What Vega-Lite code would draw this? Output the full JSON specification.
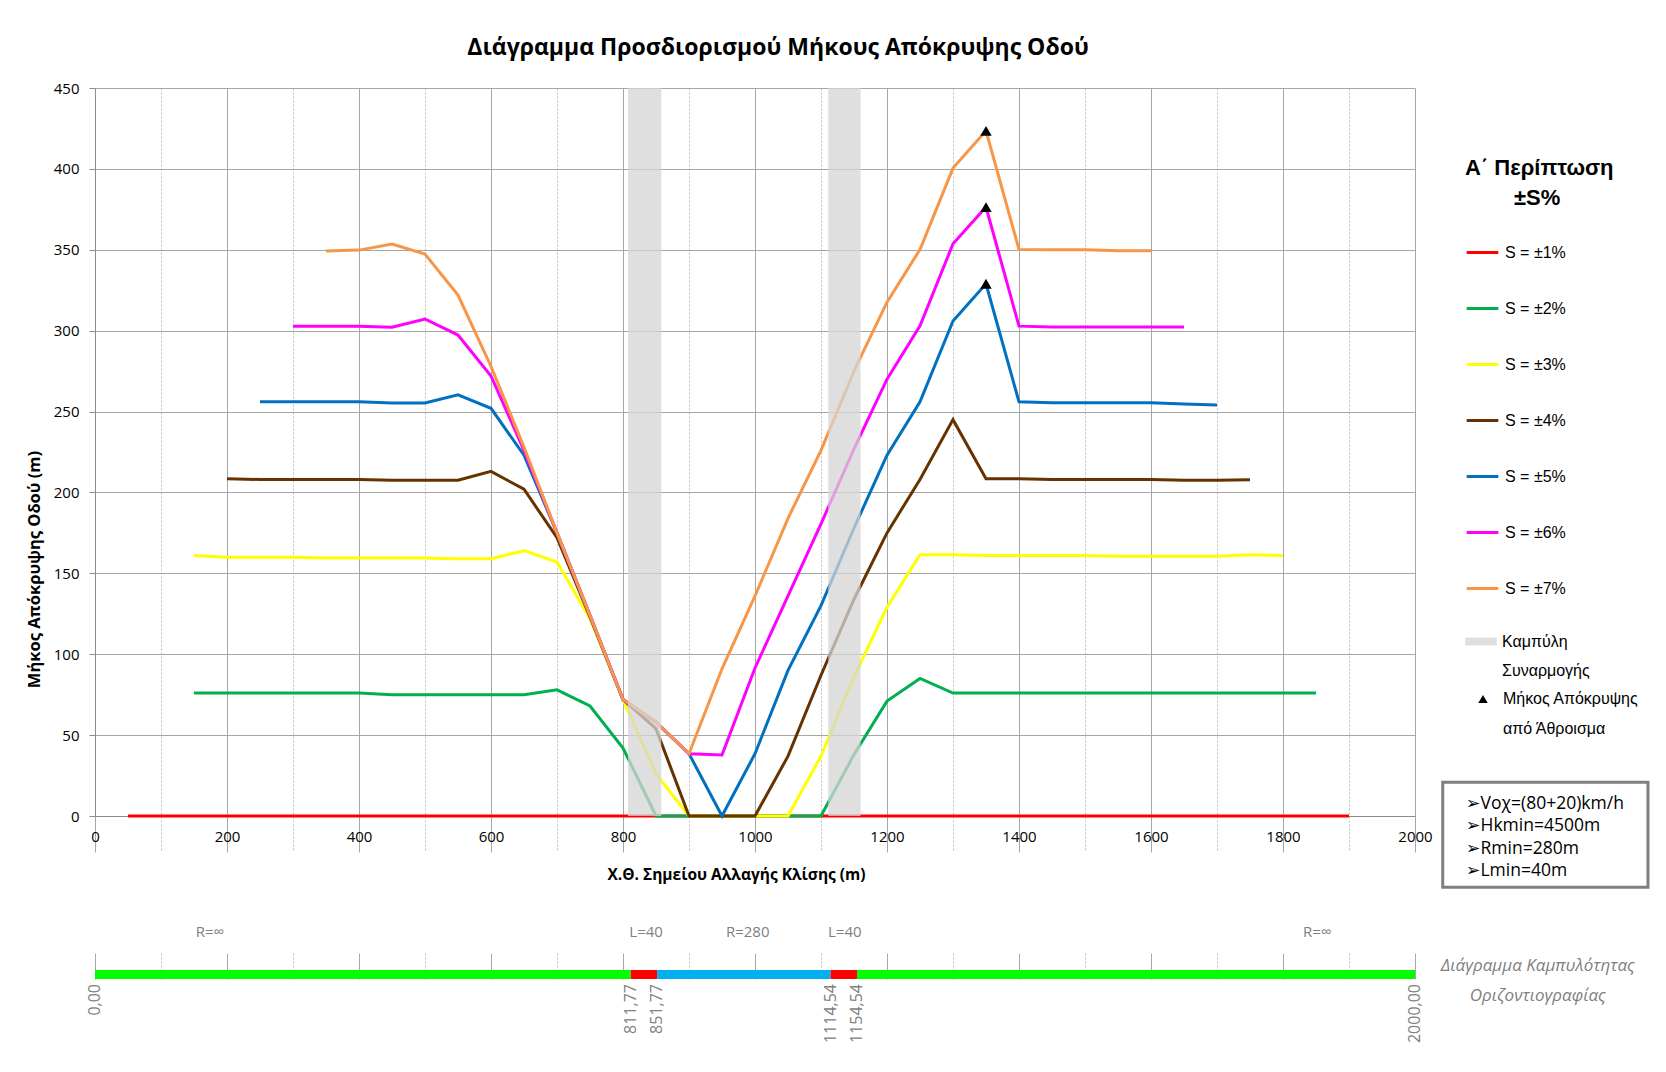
{
  "$schema": "https://vega.github.io/schema/vega-lite/v6.json",
  "background": "white",
  "padding": {"left": 26, "top": 37, "right": 5, "bottom": 5},
  "bounds": "flush",
  "spacing": 137,
  "resolve": {"scale": {"color": "independent"}},
  "config": {"view": {"stroke": null}, "font": "Open Sans", "style": {"guide-label": {"lineHeight": 29.7}}},
  "datasets": {
    "lines": [
      {"s":"S = ±1%","x":50,"y":0},{"s":"S = ±1%","x":100,"y":0},{"s":"S = ±1%","x":150,"y":0},{"s":"S = ±1%","x":200,"y":0},{"s":"S = ±1%","x":250,"y":0},{"s":"S = ±1%","x":300,"y":0},{"s":"S = ±1%","x":350,"y":0},{"s":"S = ±1%","x":400,"y":0},{"s":"S = ±1%","x":450,"y":0},{"s":"S = ±1%","x":500,"y":0},{"s":"S = ±1%","x":550,"y":0},{"s":"S = ±1%","x":600,"y":0},{"s":"S = ±1%","x":650,"y":0},{"s":"S = ±1%","x":700,"y":0},{"s":"S = ±1%","x":750,"y":0},{"s":"S = ±1%","x":800,"y":0},{"s":"S = ±1%","x":850,"y":0},{"s":"S = ±1%","x":900,"y":0},{"s":"S = ±1%","x":950,"y":0},{"s":"S = ±1%","x":1000,"y":0},{"s":"S = ±1%","x":1050,"y":0},{"s":"S = ±1%","x":1100,"y":0},{"s":"S = ±1%","x":1150,"y":0},{"s":"S = ±1%","x":1200,"y":0},{"s":"S = ±1%","x":1250,"y":0},{"s":"S = ±1%","x":1300,"y":0},{"s":"S = ±1%","x":1350,"y":0},{"s":"S = ±1%","x":1400,"y":0},{"s":"S = ±1%","x":1450,"y":0},{"s":"S = ±1%","x":1500,"y":0},{"s":"S = ±1%","x":1550,"y":0},{"s":"S = ±1%","x":1600,"y":0},{"s":"S = ±1%","x":1650,"y":0},{"s":"S = ±1%","x":1700,"y":0},{"s":"S = ±1%","x":1750,"y":0},{"s":"S = ±1%","x":1800,"y":0},{"s":"S = ±1%","x":1850,"y":0},{"s":"S = ±1%","x":1900,"y":0},
      {"s":"S = ±2%","x":150,"y":76},{"s":"S = ±2%","x":200,"y":76},{"s":"S = ±2%","x":250,"y":76},{"s":"S = ±2%","x":300,"y":76},{"s":"S = ±2%","x":350,"y":76},{"s":"S = ±2%","x":400,"y":76},{"s":"S = ±2%","x":450,"y":75},{"s":"S = ±2%","x":500,"y":75},{"s":"S = ±2%","x":550,"y":75},{"s":"S = ±2%","x":600,"y":75},{"s":"S = ±2%","x":650,"y":75},{"s":"S = ±2%","x":700,"y":78},{"s":"S = ±2%","x":750,"y":68},{"s":"S = ±2%","x":800,"y":42},{"s":"S = ±2%","x":850,"y":0},{"s":"S = ±2%","x":900,"y":0},{"s":"S = ±2%","x":950,"y":0},{"s":"S = ±2%","x":1000,"y":0},{"s":"S = ±2%","x":1050,"y":0},{"s":"S = ±2%","x":1100,"y":0},{"s":"S = ±2%","x":1150,"y":38},{"s":"S = ±2%","x":1200,"y":71},{"s":"S = ±2%","x":1250,"y":85},{"s":"S = ±2%","x":1300,"y":76},{"s":"S = ±2%","x":1350,"y":76},{"s":"S = ±2%","x":1400,"y":76},{"s":"S = ±2%","x":1450,"y":76},{"s":"S = ±2%","x":1500,"y":76},{"s":"S = ±2%","x":1550,"y":76},{"s":"S = ±2%","x":1600,"y":76},{"s":"S = ±2%","x":1650,"y":76},{"s":"S = ±2%","x":1700,"y":76},{"s":"S = ±2%","x":1750,"y":76},{"s":"S = ±2%","x":1800,"y":76},{"s":"S = ±2%","x":1850,"y":76},
      {"s":"S = ±3%","x":150,"y":161},{"s":"S = ±3%","x":200,"y":160},{"s":"S = ±3%","x":250,"y":160},{"s":"S = ±3%","x":300,"y":160},{"s":"S = ±3%","x":350,"y":159.5},{"s":"S = ±3%","x":400,"y":159.5},{"s":"S = ±3%","x":450,"y":159.5},{"s":"S = ±3%","x":500,"y":159.5},{"s":"S = ±3%","x":550,"y":159},{"s":"S = ±3%","x":600,"y":159},{"s":"S = ±3%","x":650,"y":164},{"s":"S = ±3%","x":700,"y":157},{"s":"S = ±3%","x":750,"y":122},{"s":"S = ±3%","x":800,"y":72},{"s":"S = ±3%","x":850,"y":26},{"s":"S = ±3%","x":900,"y":0},{"s":"S = ±3%","x":950,"y":0},{"s":"S = ±3%","x":1000,"y":0},{"s":"S = ±3%","x":1050,"y":0},{"s":"S = ±3%","x":1100,"y":37},{"s":"S = ±3%","x":1150,"y":86},{"s":"S = ±3%","x":1200,"y":129},{"s":"S = ±3%","x":1250,"y":161.5},{"s":"S = ±3%","x":1300,"y":161.5},{"s":"S = ±3%","x":1350,"y":161},{"s":"S = ±3%","x":1400,"y":161},{"s":"S = ±3%","x":1450,"y":161},{"s":"S = ±3%","x":1500,"y":161},{"s":"S = ±3%","x":1550,"y":160.5},{"s":"S = ±3%","x":1600,"y":160.5},{"s":"S = ±3%","x":1650,"y":160.5},{"s":"S = ±3%","x":1700,"y":160.5},{"s":"S = ±3%","x":1750,"y":161.5},{"s":"S = ±3%","x":1800,"y":161},
      {"s":"S = ±4%","x":200,"y":208.5},{"s":"S = ±4%","x":250,"y":208},{"s":"S = ±4%","x":300,"y":208},{"s":"S = ±4%","x":350,"y":208},{"s":"S = ±4%","x":400,"y":208},{"s":"S = ±4%","x":450,"y":207.5},{"s":"S = ±4%","x":500,"y":207.5},{"s":"S = ±4%","x":550,"y":207.5},{"s":"S = ±4%","x":600,"y":213},{"s":"S = ±4%","x":650,"y":202},{"s":"S = ±4%","x":700,"y":172},{"s":"S = ±4%","x":750,"y":123},{"s":"S = ±4%","x":800,"y":72},{"s":"S = ±4%","x":850,"y":54},{"s":"S = ±4%","x":900,"y":0},{"s":"S = ±4%","x":950,"y":0},{"s":"S = ±4%","x":1000,"y":0},{"s":"S = ±4%","x":1050,"y":37},{"s":"S = ±4%","x":1100,"y":87},{"s":"S = ±4%","x":1150,"y":134},{"s":"S = ±4%","x":1200,"y":175},{"s":"S = ±4%","x":1250,"y":208},{"s":"S = ±4%","x":1300,"y":245},{"s":"S = ±4%","x":1350,"y":208.5},{"s":"S = ±4%","x":1400,"y":208.5},{"s":"S = ±4%","x":1450,"y":208},{"s":"S = ±4%","x":1500,"y":208},{"s":"S = ±4%","x":1550,"y":208},{"s":"S = ±4%","x":1600,"y":208},{"s":"S = ±4%","x":1650,"y":207.5},{"s":"S = ±4%","x":1700,"y":207.5},{"s":"S = ±4%","x":1750,"y":207.8},
      {"s":"S = ±5%","x":250,"y":256},{"s":"S = ±5%","x":300,"y":256},{"s":"S = ±5%","x":350,"y":256},{"s":"S = ±5%","x":400,"y":256},{"s":"S = ±5%","x":450,"y":255.3},{"s":"S = ±5%","x":500,"y":255.3},{"s":"S = ±5%","x":550,"y":260.3},{"s":"S = ±5%","x":600,"y":252},{"s":"S = ±5%","x":650,"y":223},{"s":"S = ±5%","x":700,"y":175},{"s":"S = ±5%","x":750,"y":124},{"s":"S = ±5%","x":800,"y":72},{"s":"S = ±5%","x":850,"y":58},{"s":"S = ±5%","x":900,"y":38.5},{"s":"S = ±5%","x":950,"y":0},{"s":"S = ±5%","x":1000,"y":38.5},{"s":"S = ±5%","x":1050,"y":90},{"s":"S = ±5%","x":1100,"y":130},{"s":"S = ±5%","x":1150,"y":178},{"s":"S = ±5%","x":1200,"y":223},{"s":"S = ±5%","x":1250,"y":256},{"s":"S = ±5%","x":1300,"y":306},{"s":"S = ±5%","x":1350,"y":329},{"s":"S = ±5%","x":1400,"y":256},{"s":"S = ±5%","x":1450,"y":255.4},{"s":"S = ±5%","x":1500,"y":255.4},{"s":"S = ±5%","x":1550,"y":255.4},{"s":"S = ±5%","x":1600,"y":255.4},{"s":"S = ±5%","x":1650,"y":254.7},{"s":"S = ±5%","x":1700,"y":254},
      {"s":"S = ±6%","x":300,"y":302.7},{"s":"S = ±6%","x":350,"y":302.7},{"s":"S = ±6%","x":400,"y":302.7},{"s":"S = ±6%","x":450,"y":302.1},{"s":"S = ±6%","x":500,"y":307.2},{"s":"S = ±6%","x":550,"y":297.3},{"s":"S = ±6%","x":600,"y":272},{"s":"S = ±6%","x":650,"y":226},{"s":"S = ±6%","x":700,"y":175},{"s":"S = ±6%","x":750,"y":124},{"s":"S = ±6%","x":800,"y":72},{"s":"S = ±6%","x":850,"y":58},{"s":"S = ±6%","x":900,"y":38.5},{"s":"S = ±6%","x":950,"y":37.7},{"s":"S = ±6%","x":1000,"y":91.5},{"s":"S = ±6%","x":1050,"y":136},{"s":"S = ±6%","x":1100,"y":180.5},{"s":"S = ±6%","x":1150,"y":227},{"s":"S = ±6%","x":1200,"y":270},{"s":"S = ±6%","x":1250,"y":303},{"s":"S = ±6%","x":1300,"y":353.7},{"s":"S = ±6%","x":1350,"y":376.4},{"s":"S = ±6%","x":1400,"y":302.8},{"s":"S = ±6%","x":1450,"y":302.2},{"s":"S = ±6%","x":1500,"y":302.2},{"s":"S = ±6%","x":1550,"y":302.2},{"s":"S = ±6%","x":1600,"y":302.2},{"s":"S = ±6%","x":1650,"y":302.2},
      {"s":"S = ±7%","x":350,"y":349.2},{"s":"S = ±7%","x":400,"y":349.8},{"s":"S = ±7%","x":450,"y":353.5},{"s":"S = ±7%","x":500,"y":347.3},{"s":"S = ±7%","x":550,"y":322},{"s":"S = ±7%","x":600,"y":278},{"s":"S = ±7%","x":650,"y":228},{"s":"S = ±7%","x":700,"y":175},{"s":"S = ±7%","x":750,"y":124},{"s":"S = ±7%","x":800,"y":72},{"s":"S = ±7%","x":850,"y":58},{"s":"S = ±7%","x":900,"y":38.5},{"s":"S = ±7%","x":950,"y":91},{"s":"S = ±7%","x":1000,"y":136},{"s":"S = ±7%","x":1050,"y":184},{"s":"S = ±7%","x":1100,"y":226},{"s":"S = ±7%","x":1150,"y":275},{"s":"S = ±7%","x":1200,"y":317.6},{"s":"S = ±7%","x":1250,"y":350.2},{"s":"S = ±7%","x":1300,"y":400.5},{"s":"S = ±7%","x":1350,"y":423.5},{"s":"S = ±7%","x":1400,"y":350.2},{"s":"S = ±7%","x":1450,"y":350},{"s":"S = ±7%","x":1500,"y":350},{"s":"S = ±7%","x":1550,"y":349.4},{"s":"S = ±7%","x":1600,"y":349.4}
    ],
    "peaks": [
      {"name":"Μήκος Απόκρυψης από Άθροισμα","x":1350,"y":329},
      {"name":"Μήκος Απόκρυψης από Άθροισμα","x":1350,"y":376.4},
      {"name":"Μήκος Απόκρυψης από Άθροισμα","x":1350,"y":423.5}
    ],
    "bands": [
      {"name":"Καμπύλη Συναρμογής","start":807.6,"end":858},
      {"name":"Καμπύλη Συναρμογής","start":1111,"end":1160}
    ],
    "curvature": [
      {"type":"Ευθεία","start":0,"end":811.77},
      {"type":"Κλωθοειδής","start":811.77,"end":851.77},
      {"type":"Κυκλικό τόξο","start":851.77,"end":1114.54},
      {"type":"Κλωθοειδής","start":1114.54,"end":1154.54},
      {"type":"Ευθεία","start":1154.54,"end":2000}
    ],
    "chainages": [
      {"x":0,"label":"0,00"},
      {"x":811.77,"label":"811,77"},
      {"x":851.77,"label":"851,77"},
      {"x":1114.54,"label":"1114,54"},
      {"x":1154.54,"label":"1154,54"},
      {"x":2000,"label":"2000,00"}
    ],
    "spans": [
      {"x":174,"label":"R=∞"},
      {"x":835,"label":"L=40"},
      {"x":989,"label":"R=280"},
      {"x":1136,"label":"L=40"},
      {"x":1852,"label":"R=∞"}
    ]
  },
  "vconcat": [
    {
      "width": 1320,
      "height": 728,
      "title": {"text": "Διάγραμμα Προσδιορισμού Μήκους Απόκρυψης Οδού", "font": "Open Sans", "fontSize": 23, "fontWeight": "bold", "color": "#000000", "anchor": "middle", "dx": 23, "offset": 21},
      "layer": [
        {
          "data": {"name": "lines"},
          "mark": {"type": "line", "strokeWidth": 3},
          "encoding": {
            "x": {"field": "x", "type": "quantitative", "scale": {"domain": [0, 2000], "nice": false, "zero": false},
              "axis": {
                "values": [0,50,100,150,200,250,300,350,400,450,500,550,600,650,700,750,800,850,900,950,1000,1050,1100,1150,1200,1250,1300,1350,1400,1450,1500,1550,1600,1650,1700,1750,1800,1850,1900,1950,2000],
                "format": "d",
                "labelExpr": "datum.value % 200 === 0 ? datum.label : ''",
                "labelOverlap": false, "labelFlush": false,
                "grid": true,
                "gridColor": {"condition": {"test": "datum.value % 200 === 0", "value": "#a6a6a6"}, "value": "#bdbdbd"},
                "gridDash": {"condition": {"test": "datum.value % 200 === 0", "value": []}, "value": [2, 2]},
                "tickSize": 36,
                "tickColor": {"condition": {"test": "datum.value % 200 === 0", "value": "#a6a6a6"}, "value": "#bdbdbd"},
                "tickDash": {"condition": {"test": "datum.value % 200 === 0", "value": []}, "value": [2, 2]},
                "domainColor": "#8c8c8c",
                "labelPadding": -23,
                "labelFont": "Open Sans", "labelFontSize": 15, "labelColor": "#000000",
                "title": "Χ.Θ. Σημείου Αλλαγής Κλίσης (m)",
                "titleFont": "Open Sans", "titleFontSize": 15.5, "titleFontWeight": "bold", "titleColor": "#000000",
                "titlePadding": 15, "titleX": 641
              }
            },
            "y": {"field": "y", "type": "quantitative", "scale": {"domain": [0, 450], "nice": false},
              "axis": {
                "values": [0,50,100,150,200,250,300,350,400,450],
                "grid": true, "gridColor": "#a6a6a6",
                "tickSize": 6, "tickColor": "#8c8c8c", "domainColor": "#8c8c8c",
                "labelPadding": 10, "labelFont": "Open Sans", "labelFontSize": 15, "labelColor": "#000000",
                "title": "Μήκος Απόκρυψης Οδού (m)",
                "titleFont": "Open Sans", "titleFontSize": 16.5, "titleFontWeight": "bold", "titleColor": "#000000",
                "titleX": -61, "titleY": 481, "titleAngle": 270, "titleBaseline": "middle", "titleAlign": "center"
              }
            },
            "color": {"field": "s", "type": "nominal",
              "scale": {"domain": ["S = ±1%","S = ±2%","S = ±3%","S = ±4%","S = ±5%","S = ±6%","S = ±7%"],
                        "range": ["#ff0000","#00b050","#ffff00","#663300","#0070c0","#ff00ff","#f79646"]},
              "legend": {
                "title": ["Α΄ Περίπτωση", "\u200b\u00a0\u00a0\u00a0\u00a0\u00a0\u00a0\u00a0\u00a0±S%"],
                "orient": "none", "legendX": 1370, "legendY": 70, "padding": 0,
                "symbolType": "stroke", "symbolStrokeWidth": 3, "symbolSize": 1000,
                "labelFont": "Liberation Sans", "labelFontSize": 16, "labelColor": "#000000", "labelOffset": 5,
                "titleFont": "Liberation Sans", "titleFontSize": 22, "titleFontWeight": "bold", "titleColor": "#000000",
                "titleAlign": "left", "titleAnchor": "start", "titleLineHeight": 30, "titlePadding": 25,
                "rowPadding": 30
              }
            }
          }
        },
        {
          "data": {"name": "bands"},
          "mark": {"type": "rect", "opacity": 0.75},
          "encoding": {
            "x": {"field": "start", "type": "quantitative", "scale": {"domain": [0, 2000], "nice": false, "zero": false}},
            "x2": {"field": "end"},
            "y": {"datum": 0, "type": "quantitative"},
            "y2": {"datum": 450},
            "fill": {"field": "name", "type": "nominal", "scale": {"range": ["#d4d4d4"]},
              "legend": {
                "title": null, "orient": "none", "legendX": 1370, "legendY": 537.5, "padding": 0,
                "symbolType": "M-1,-0.25H1V0.25H-1Z", "symbolSize": 1000, "symbolStrokeWidth": 0,
                "labelExpr": "split(datum.label, ' ')",
                "labelFont": "Liberation Sans", "labelFontSize": 16, "labelColor": "#000000", "labelOffset": 5
              }
            }
          }
        },
        {
          "data": {"name": "peaks"},
          "mark": {"type": "point", "filled": true, "color": "#000000", "size": 130, "opacity": 1},
          "encoding": {
            "x": {"field": "x", "type": "quantitative", "scale": {"domain": [0, 2000], "nice": false, "zero": false}},
            "y": {"field": "y", "type": "quantitative"},
            "shape": {"field": "name", "type": "nominal", "scale": {"range": ["triangle-up"]},
              "legend": {
                "title": null, "orient": "none", "legendX": 1380, "legendY": 603, "padding": 0,
                "symbolSize": 90, "symbolFillColor": "#000000", "symbolStrokeColor": "#000000",
                "labelExpr": "[slice(datum.label, 0, 15), slice(datum.label, 16)]",
                "labelFont": "Liberation Sans", "labelFontSize": 16, "labelColor": "#000000", "labelOffset": 12
              }
            }
          }
        },
        {
          "data": {"values": [{}]},
          "mark": {"type": "rect", "fill": "#ffffff", "stroke": "#7f7f7f", "strokeWidth": 3},
          "encoding": {
            "x": {"datum": 2042, "type": "quantitative"},
            "x2": {"datum": 2353},
            "y": {"datum": 20.8, "type": "quantitative"},
            "y2": {"datum": -44}
          }
        },
        {
          "data": {"values": [{}]},
          "mark": {"type": "text", "align": "left", "baseline": "top", "font": "Open Sans, DejaVu Sans", "fontSize": 17.5, "lineHeight": 22.3, "color": "#000000",
                   "text": ["➢Vοχ=(80+20)km/h", "➢Hkmin=4500m", "➢Rmin=280m", "➢Lmin=40m"]},
          "encoding": {
            "x": {"datum": 2077, "type": "quantitative"},
            "y": {"datum": 13, "type": "quantitative"}
          }
        }
      ]
    },
    {
      "width": 1320,
      "height": 26,
      "layer": [
        {
          "data": {"name": "curvature"},
          "mark": {"type": "rect"},
          "encoding": {
            "x": {"field": "start", "type": "quantitative", "scale": {"domain": [0, 2000], "nice": false, "zero": false},
              "axis": {
                "values": [0,50,100,150,200,250,300,350,400,450,500,550,600,650,700,750,800,850,900,950,1000,1050,1100,1150,1200,1250,1300,1350,1400,1450,1500,1550,1600,1650,1700,1750,1800,1850,1900,1950,2000],
                "labels": false, "ticks": false, "domain": false, "title": null,
                "grid": true,
                "gridColor": {"condition": {"test": "datum.value % 200 === 0", "value": "#a6a6a6"}, "value": "#bdbdbd"},
                "gridDash": {"condition": {"test": "datum.value % 200 === 0", "value": []}, "value": [2, 2]}
              }
            },
            "x2": {"field": "end"},
            "y": {"datum": 0, "type": "quantitative", "scale": {"domain": [0, 26], "nice": false}, "axis": null},
            "y2": {"datum": 9},
            "color": {"field": "type", "type": "nominal",
              "scale": {"domain": ["Ευθεία", "Κλωθοειδής", "Κυκλικό τόξο"], "range": ["#00ff00", "#ff0000", "#00b0f0"]},
              "legend": null}
          }
        },
        {
          "data": {"name": "spans"},
          "mark": {"type": "text", "font": "Open Sans", "fontSize": 15, "color": "#808080", "baseline": "middle", "align": "center"},
          "encoding": {
            "x": {"field": "x", "type": "quantitative"},
            "y": {"datum": 47, "type": "quantitative"},
            "text": {"field": "label"}
          }
        },
        {
          "data": {"name": "chainages"},
          "mark": {"type": "text", "font": "Open Sans", "fontSize": 16, "color": "#808080", "baseline": "middle", "align": "right", "angle": 270},
          "encoding": {
            "x": {"field": "x", "type": "quantitative"},
            "y": {"datum": -5, "type": "quantitative"},
            "text": {"field": "label"}
          }
        },
        {
          "data": {"values": [{}]},
          "mark": {"type": "text", "font": "Open Sans", "fontSize": 17, "fontStyle": "italic", "color": "#7f7f7f", "baseline": "middle", "align": "center", "lineHeight": 30,
                   "text": ["Διάγραμμα Καμπυλότητας", "Οριζοντιογραφίας"]},
          "encoding": {
            "x": {"datum": 2186, "type": "quantitative"},
            "y": {"datum": 13, "type": "quantitative"}
          }
        }
      ]
    }
  ]
}
